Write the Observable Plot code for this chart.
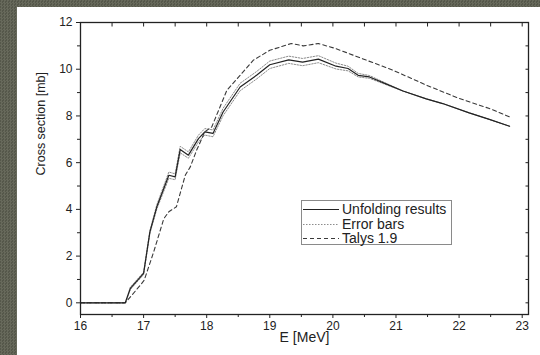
<!DOCTYPE html>
<html><head><meta charset="utf-8">
<script src="https://cdn.jsdelivr.net/npm/d3@7"></script>
<script src="https://cdn.jsdelivr.net/npm/@observablehq/plot@0.6"></script>
<style>
html,body{margin:0;padding:0;}
body{width:540px;height:355px;overflow:hidden;position:relative;background-color:#5d5f52;
  background-image:repeating-conic-gradient(#67695b 0 25%, #55574a 0 50%);background-size:3px 3px;
  font-family:"Liberation Sans",Arial,sans-serif;}
#panel{position:absolute;left:17px;top:7px;width:523px;height:348px;background:#fff;}
#chart{position:absolute;left:0;top:0;}
#legend{position:absolute;left:301px;top:200px;width:149px;height:43px;border:1px solid #8a8a8a;background:#fff;}
#legend .row{position:absolute;left:0;height:15px;display:flex;align-items:center;}
#legend svg{display:block;margin-left:1px;margin-right:3px;}
#legend span{font-size:14px;color:#222;line-height:15px;}
</style></head>
<body>
<div id="panel"></div>
<div id="chart"></div>
<div id="legend"></div>
<script>
// Energies (MeV) for the unfolding result and its error band
const E_unfold = [16, 16.71, 16.79, 17.0, 17.1, 17.21, 17.4, 17.5, 17.58, 17.71, 17.87, 17.97, 18.1, 18.26, 18.53, 18.79, 19.0, 19.3, 19.52, 19.77, 20.05, 20.24, 20.4, 20.58, 20.85, 21.11, 21.48, 21.74, 22.16, 22.48, 22.8];
const unfold   = [0, 0, 0.62, 1.26, 3.04, 4.11, 5.46, 5.39, 6.56, 6.32, 7.03, 7.32, 7.25, 8.17, 9.24, 9.74, 10.19, 10.4, 10.3, 10.43, 10.13, 10.03, 9.74, 9.67, 9.36, 9.07, 8.73, 8.53, 8.13, 7.85, 7.56];
const errUpper = [0, 0, 0.67, 1.31, 3.1, 4.2, 5.6, 5.52, 6.7, 6.46, 7.18, 7.46, 7.4, 8.33, 9.4, 9.9, 10.35, 10.56, 10.46, 10.58, 10.26, 10.13, 9.82, 9.73, 9.39, 9.07, 8.73, 8.53, 8.13, 7.85, 7.56];
const errLower = [0, 0, 0.57, 1.21, 2.97, 4.02, 5.33, 5.27, 6.42, 6.19, 6.89, 7.18, 7.11, 8.01, 9.08, 9.58, 10.03, 10.25, 10.15, 10.28, 10.01, 9.93, 9.67, 9.61, 9.33, 9.07, 8.73, 8.53, 8.13, 7.85, 7.56];
// Talys 1.9 calculation
const E_talys  = [16, 16.71, 16.95, 17.01, 17.16, 17.32, 17.4, 17.52, 17.66, 17.74, 17.84, 17.97, 18.08, 18.32, 18.53, 18.74, 19.0, 19.34, 19.53, 19.77, 20.05, 20.42, 20.95, 21.48, 22.0, 22.48, 22.8];
const talys    = [0, 0, 0.76, 0.97, 2.18, 3.6, 3.9, 4.11, 5.46, 5.82, 6.53, 7.32, 7.53, 9.1, 9.74, 10.39, 10.81, 11.1, 11.0, 11.1, 10.88, 10.5, 9.96, 9.32, 8.75, 8.32, 7.96];
// Axis ticks
const xMajor = [16, 17, 18, 19, 20, 21, 22, 23];
const xMinor = [16.5, 17.5, 18.5, 19.5, 20.5, 21.5, 22.5];
const yMajor = [0, 2, 4, 6, 8, 10, 12];
const yMinor = [1, 3, 5, 7, 9, 11];
const legendLabels = ["Unfolding results", "Error bars", "Talys 1.9"];
const xLabel = "E [MeV]";
const yLabel = "Cross section [mb]";

const toRows = (xs, ys) => xs.map((x, i) => ({E: x, v: ys[i]}));
const unfoldData = toRows(E_unfold, unfold);
const upperData = toRows(E_unfold, errUpper);
const lowerData = toRows(E_unfold, errLower);
const talysData = toRows(E_talys, talys);

const axisColor = "#222";
const blank = () => "";
const chart = Plot.plot({
  width: 540, height: 355,
  marginLeft: 80, marginRight: 12, marginTop: 22, marginBottom: 41,
  style: {background: "transparent", fontFamily: "'Liberation Sans', Arial, sans-serif", color: axisColor, overflow: "visible"},
  x: {domain: [16, 23.1]},
  y: {domain: [-0.5, 12]},
  marks: [
    Plot.line(upperData, {x: "E", y: "v", stroke: "#8c8c8c", strokeWidth: 1, strokeDasharray: "1.5,1.5"}),
    Plot.line(lowerData, {x: "E", y: "v", stroke: "#8c8c8c", strokeWidth: 1, strokeDasharray: "1.5,1.5"}),
    Plot.line(talysData, {x: "E", y: "v", stroke: "#3a3a3a", strokeWidth: 1.1, strokeDasharray: "4,3"}),
    Plot.line(unfoldData, {x: "E", y: "v", stroke: "#222", strokeWidth: 1.2}),
    Plot.frame({stroke: axisColor, strokeWidth: 1.3}),
    Plot.axisX({ticks: xMajor, anchor: "bottom", tickSize: 4, tickPadding: 3, fontSize: 12, label: null, stroke: axisColor}),
    Plot.axisX({ticks: xMinor, anchor: "bottom", tickSize: 3, tickFormat: blank, label: null, stroke: axisColor}),
    Plot.axisX({ticks: xMajor.concat(xMinor), anchor: "top", tickSize: 3.5, dy: 3.5, tickFormat: blank, label: null, stroke: axisColor}),
    Plot.axisY({ticks: yMajor, anchor: "left", tickSize: 4, tickPadding: 4, fontSize: 12, label: null, stroke: axisColor}),
    Plot.axisY({ticks: yMinor, anchor: "left", tickSize: 3, tickFormat: blank, label: null, stroke: axisColor}),
    Plot.axisY({ticks: yMajor.concat(yMinor), anchor: "right", tickSize: 3.5, dx: -3.5, tickFormat: blank, label: null, stroke: axisColor}),
    Plot.text([xLabel], {frameAnchor: "bottom", dy: 27, fontSize: 14, fill: axisColor}),
    Plot.text([yLabel], {frameAnchor: "left", dx: -40, dy: 7, rotate: -90, fontSize: 12.5, fill: axisColor})
  ]
});
document.getElementById("chart").append(chart);

// Legend
const legendStyles = [
  {stroke: "#222", dash: null, width: 1.2},
  {stroke: "#8c8c8c", dash: "1.5,1.5", width: 1},
  {stroke: "#3a3a3a", dash: "4,3", width: 1.1}
];
const legend = d3.select("#legend");
legendLabels.forEach((lab, i) => {
  const row = legend.append("div").attr("class", "row").style("top", (1 + i * 14.6) + "px");
  const s = row.append("svg").attr("width", 36).attr("height", 15);
  s.append("line").attr("x1", 0).attr("x2", 36).attr("y1", 7.5).attr("y2", 7.5)
    .attr("stroke", legendStyles[i].stroke).attr("stroke-width", legendStyles[i].width)
    .attr("stroke-dasharray", legendStyles[i].dash);
  row.append("span").text(lab);
});
</script>
</body></html>
